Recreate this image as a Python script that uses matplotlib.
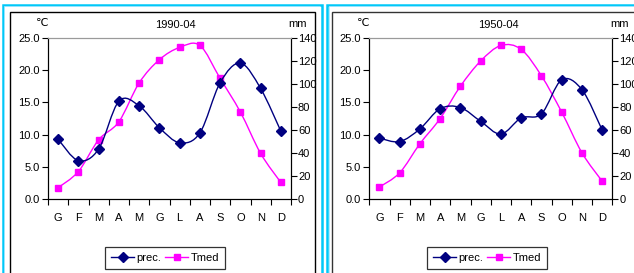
import numpy as np
import matplotlib
matplotlib.use("Agg")
import matplotlib.pyplot as plt
import matplotlib.path as mpath
from matplotlib.patches import PathPatch
from matplotlib.lines import Line2D

# =========================
# DATA
# =========================
MONTHS = ["G", "F", "M", "A", "M", "G", "L", "A", "S", "O", "N", "D"]

TITLE_A = "1990-04"
TMED_A = [1.8, 4.3, 9.2, 12.0, 18.0, 21.6, 23.5, 23.8, 18.7, 13.5, 7.1, 2.6]      # degC
PREC_A = [52, 33.5, 43.5, 85, 81, 62, 49, 57.5, 101, 118, 96, 59]                # mm

TITLE_B = "1950-04"
TMED_B = [1.9, 4.1, 8.6, 12.5, 17.5, 21.4, 23.8, 23.2, 19.1, 13.5, 7.2, 2.8]
PREC_B = [53, 50, 61, 78.5, 79.5, 67.5, 56.5, 70.5, 74, 103.5, 95, 60]

T_TICKS = [0, 5, 10, 15, 20, 25]
P_TICKS = [0, 20, 40, 60, 80, 100, 120, 140]

W, H = 634, 273
FS = 8
FONT = ["Liberation Sans", "DejaVu Sans"]
NAVY = "#000080"
MAGENTA = "#FF00FF"
CYAN = "#00C8F8"
LIGHT_CYAN = "#A8E8FF"

plt.rcParams["font.family"] = FONT
plt.rcParams["font.size"] = FS

fig = plt.figure(figsize=(W / 100, H / 100), dpi=100)


def fx(px):
    return px / W


def fy(py):
    return 1 - py / H


def smooth_path(x, y):
    # Excel-like smoothed line: cubic bezier through every point
    x = np.asarray(x, float)
    y = np.asarray(y, float)
    n = len(x)
    verts = [(x[0], y[0])]
    codes = [mpath.Path.MOVETO]
    for i in range(n - 1):
        i0 = max(i - 1, 0)
        i3 = min(i + 2, n - 1)
        c1 = (x[i] + (x[i + 1] - x[i0]) / 6, y[i] + (y[i + 1] - y[i0]) / 6)
        c2 = (x[i + 1] - (x[i3] - x[i]) / 6, y[i + 1] - (y[i3] - y[i]) / 6)
        verts += [c1, c2, (x[i + 1], y[i + 1])]
        codes += [mpath.Path.CURVE4] * 3
    return mpath.Path(verts, codes)


def frame_line(xs, ys, color, lw):
    fig.add_artist(Line2D([fx(v) for v in xs], [fy(v) for v in ys],
                          color=color, lw=lw, solid_capstyle="butt",
                          solid_joinstyle="miter"))


def panel(x0, title, title_x, tmed, prec, leg_x):
    ax = fig.add_axes([fx(x0), fy(199.3), fx(243), 161.6 / H])
    ax2 = ax.twinx()
    xs = np.arange(len(MONTHS))

    # precipitation on right axis (mm)
    ax2.add_patch(PathPatch(smooth_path(xs, prec), fill=False, edgecolor=NAVY, lw=1.0))
    ax2.plot(xs, prec, ls="none", marker="D", ms=4.6, color=NAVY)
    # temperature on left axis (degC)
    ax.add_patch(PathPatch(smooth_path(xs, tmed), fill=False, edgecolor=MAGENTA, lw=1.0))
    ax.plot(xs, tmed, ls="none", marker="s", ms=4.4, color=MAGENTA)

    ax.set_xlim(-0.5, len(MONTHS) - 0.5)
    ax.set_ylim(0, 25)
    ax2.set_ylim(0, 140)
    ax.set_xticks(xs)
    ax.set_xticklabels(MONTHS)
    ax.set_xticks(np.arange(-0.5, len(MONTHS)), minor=True)
    ax.tick_params(axis="x", which="major", length=0, pad=10, labelsize=FS)
    ax.tick_params(axis="x", which="minor", length=4, width=0.8, direction="out")
    ax.set_yticks(T_TICKS)
    ax.set_yticklabels([f"{v:.1f}" for v in T_TICKS])
    ax.tick_params(axis="y", length=4, width=0.8, pad=2, labelsize=FS)
    ax2.set_yticks(P_TICKS)
    ax2.tick_params(axis="y", length=4, width=0.8, pad=1, labelsize=FS)

    for a in (ax, ax2):
        a.spines["top"].set_color("#9a9a9a")
        a.spines["top"].set_linewidth(0.8)
        for s in ("left", "right", "bottom"):
            a.spines[s].set_linewidth(0.8)
        a.patch.set_visible(False)

    fig.text(fx(title_x), fy(25), title, ha="center", va="center", fontsize=FS)
    fig.text(fx(x0 - 6), fy(23.5), "\u2103", ha="center", va="center", fontsize=FS)
    fig.text(fx(x0 + 250), fy(24), "mm", ha="center", va="center", fontsize=FS)

    handles = [Line2D([], [], color=NAVY, marker="D", ms=4.6, lw=1.0),
               Line2D([], [], color=MAGENTA, marker="s", ms=4.4, lw=1.0)]
    leg = fig.legend(handles, ["prec.", "Tmed"], loc="center",
                     bbox_to_anchor=(fx(leg_x), fy(258)), ncol=2,
                     fontsize=FS, frameon=True, fancybox=False,
                     handlelength=2.1, handletextpad=0.2, columnspacing=0.3,
                     borderpad=0.55, borderaxespad=0)
    leg.get_frame().set_edgecolor("black")
    leg.get_frame().set_linewidth(0.9)


panel(48, TITLE_A, 175, TMED_A, PREC_A, 165)
panel(369.3, TITLE_B, 498, TMED_B, PREC_B, 487)

# panel borders (cyan outer, black inner)
frame_line([2.5, 2.5, 321.5, 321.5], [290, 4.5, 4.5, 290], CYAN, 1.8)
frame_line([4.2, 4.2, 319.8], [290, 6.2, 6.2], LIGHT_CYAN, 0.6)
frame_line([9.5, 9.5, 314.5, 314.5], [290, 12, 12, 290], "black", 1.0)
frame_line([327, 327, 640], [290, 4.5, 4.5], CYAN, 1.8)
frame_line([328.7, 328.7, 640], [290, 6.2, 6.2], LIGHT_CYAN, 0.6)
frame_line([331.5, 331.5, 640], [290, 12, 12], "#333333", 1.0)

fig.savefig("out.png", dpi=100)
